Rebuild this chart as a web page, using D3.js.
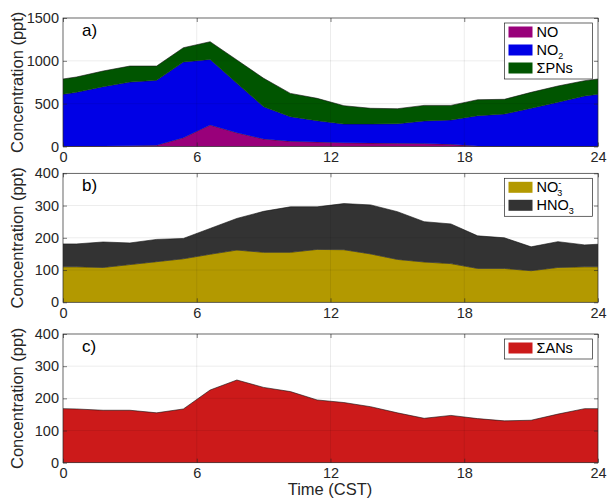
<!DOCTYPE html>
<html>
<head>
<meta charset="utf-8">
<script src="https://cdn.jsdelivr.net/npm/d3@7"></script>
<style>
  body { margin: 0; background: #fff; }
  svg { font-family: "Liberation Sans", Arial, Helvetica, sans-serif; }
</style>
</head>
<body>
<svg id="chart" width="607" height="498"></svg>
<script>
// Hours (CST) of each averaged point
const times = [0, 0.6, 1.8, 3.0, 4.2, 5.4, 6.6, 7.8, 9.0, 10.2, 11.4, 12.6, 13.8, 15.0, 16.2, 17.4, 18.6, 19.8, 21.0, 22.2, 23.4, 24];

// panel a (ppt)
const no   = [4, 5, 6, 8, 15, 103, 251, 161, 88, 61, 53, 44, 40, 38, 35, 25, 5, 3, 3, 3, 3, 4];
const no2  = [605, 627, 692, 744, 757, 883, 766, 576, 376, 287, 248, 218, 222, 227, 263, 284, 354, 376, 443, 513, 586, 605];
const pns  = [179, 179, 183, 187, 167, 167, 206, 273, 332, 272, 261, 214, 184, 176, 182, 171, 187, 172, 186, 190, 179, 179];

// panel b (ppt)
const no3  = [110, 110, 108, 117, 126, 135, 149, 162, 155, 155, 164, 163, 150, 133, 125, 120, 105, 105, 98, 108, 110, 110];
const hno3 = [71, 71, 79, 67, 69, 63, 80, 98, 127, 141, 132, 143, 152, 148, 125, 123, 101, 95, 74, 80, 68, 70];

// panel c (ppt)
const ans  = [168, 167, 163, 163, 155, 167, 226, 257, 234, 221, 195, 187, 174, 155, 138, 147, 137, 130, 132, 151, 168, 168];

const xTicks = [0, 6, 12, 18, 24];

const svg = d3.select("#chart");
const ink = "#262626";

const left = 63, right = 598;
const x = d3.scaleLinear().domain([0, 24]).range([left, right]);

// one panel: stacked areas + axes + legend
function panel(opts) {
  const y = d3.scaleLinear().domain([0, opts.ymax]).range([opts.bottom, opts.top]);
  const g = svg.append("g");

  const rows = times.map((t, i) => {
    const r = { t: t };
    opts.series.forEach(s => { r[s.key] = s.values[i]; });
    return r;
  });
  const stack = d3.stack().keys(opts.series.map(s => s.key))(rows);

  const area = d3.area()
    .x(d => x(d.data.t))
    .y0(d => y(d[0]))
    .y1(d => y(d[1]));
  const line = d3.line()
    .x(d => x(d.data.t))
    .y(d => y(d[1]));

  stack.forEach((layer, i) => {
    g.append("path")
      .attr("d", area(layer))
      .attr("fill", opts.series[i].color);
    g.append("path")
      .attr("d", line(layer))
      .attr("fill", "none")
      .attr("stroke", "#111")
      .attr("stroke-width", 0.6);
  });

  // grid on top, faint
  const grid = g.append("g").attr("stroke", "#000").attr("stroke-opacity", 0.13).attr("stroke-width", 0.6);
  xTicks.slice(1, -1).forEach(t => {
    grid.append("line").attr("x1", x(t)).attr("x2", x(t)).attr("y1", opts.top).attr("y2", opts.bottom);
  });
  opts.yTicks.slice(1, -1).forEach(v => {
    grid.append("line").attr("x1", left).attr("x2", right).attr("y1", y(v)).attr("y2", y(v));
  });

  // axes, MATLAB style ticks pointing inward
  const yAxis = d3.axisLeft(y).tickValues(opts.yTicks).tickSize(-4).tickPadding(4).tickFormat(d3.format("d"));
  const yAxisR = d3.axisRight(y).tickValues(opts.yTicks).tickSize(-4).tickFormat("");
  const xAxis = d3.axisBottom(x).tickValues(xTicks).tickSize(-4).tickPadding(5);
  const xAxisT = d3.axisTop(x).tickValues(xTicks).tickSize(-4).tickFormat("");

  const styleAxis = sel => {
    sel.select(".domain").remove();
    sel.selectAll("line").attr("stroke", ink).attr("stroke-width", 0.6);
    sel.selectAll("text").attr("fill", ink).style("font-size", "14.5px");
  };
  g.append("g").attr("transform", `translate(${left},0)`).call(yAxis).call(styleAxis);
  g.append("g").attr("transform", `translate(${right},0)`).call(yAxisR).call(styleAxis);
  g.append("g").attr("transform", `translate(0,${opts.bottom})`).call(xAxis).call(styleAxis);
  g.append("g").attr("transform", `translate(0,${opts.top})`).call(xAxisT).call(styleAxis);

  g.append("rect")
    .attr("x", left).attr("y", opts.top)
    .attr("width", right - left).attr("height", opts.bottom - opts.top)
    .attr("fill", "none").attr("stroke", ink).attr("stroke-width", 0.7);

  // panel letter
  g.append("text")
    .attr("x", 82).attr("y", opts.top + 18)
    .attr("fill", "#000").style("font-size", "17px")
    .text(opts.letter);

  // y label
  g.append("text")
    .attr("transform", `translate(23,${(opts.top + opts.bottom) / 2}) rotate(-90)`)
    .attr("text-anchor", "middle")
    .attr("fill", ink).style("font-size", "16.5px")
    .text("Concentration (ppt)");

  // legend, listed top to bottom in series order
  const lx = 504.5, lw = 88, rowH = 18;
  const lh = opts.series.length * rowH + 2;
  const ly = opts.top + 5;
  const lg = g.append("g");
  lg.append("rect")
    .attr("x", lx).attr("y", ly).attr("width", lw).attr("height", lh)
    .attr("fill", "#fff").attr("stroke", ink).attr("stroke-width", 0.7);
  opts.series.forEach((s, i) => {
    const cy = ly + 9 + i * rowH;
    lg.append("rect")
      .attr("x", lx + 4).attr("y", cy - 5.5)
      .attr("width", 24).attr("height", 11)
      .attr("fill", s.color);
    const tx = lg.append("text")
      .attr("x", lx + 32).attr("y", cy + 5)
      .attr("fill", "#000").style("font-size", "14.5px");
    s.label(tx);
  });
}

const plain = str => t => t.text(str);
const sub = (base, s, sup) => t => {
  t.append("tspan").text(base);
  if (sup) {
    t.append("tspan").attr("dy", -6).style("font-size", "9px").text(sup);
    t.append("tspan").attr("dx", -4).attr("dy", 10).style("font-size", "9px").text(s);
  } else {
    t.append("tspan").attr("dy", 4).style("font-size", "9px").text(s);
  }
};

panel({
  top: 18, bottom: 146.5, ymax: 1500, yTicks: [0, 500, 1000, 1500], letter: "a)",
  series: [
    { key: "no", values: no, color: "#99007a", label: plain("NO") },
    { key: "no2", values: no2, color: "#0000e6", label: sub("NO", "2") },
    { key: "pns", values: pns, color: "#005500", label: plain("ΣPNs") }
  ]
});

panel({
  top: 173.3, bottom: 302.3, ymax: 400, yTicks: [0, 100, 200, 300, 400], letter: "b)",
  series: [
    { key: "no3", values: no3, color: "#b39900", label: sub("NO", "3", "-") },
    { key: "hno3", values: hno3, color: "#333333", label: sub("HNO", "3") }
  ]
});

panel({
  top: 334, bottom: 462.7, ymax: 400, yTicks: [0, 100, 200, 300, 400], letter: "c)",
  series: [
    { key: "ans", values: ans, color: "#cc1a1a", label: plain("ΣANs") }
  ]
});

svg.append("text")
  .attr("x", 330).attr("y", 495)
  .attr("text-anchor", "middle")
  .attr("fill", ink).style("font-size", "16.5px")
  .text("Time (CST)");
</script>
</body>
</html>
